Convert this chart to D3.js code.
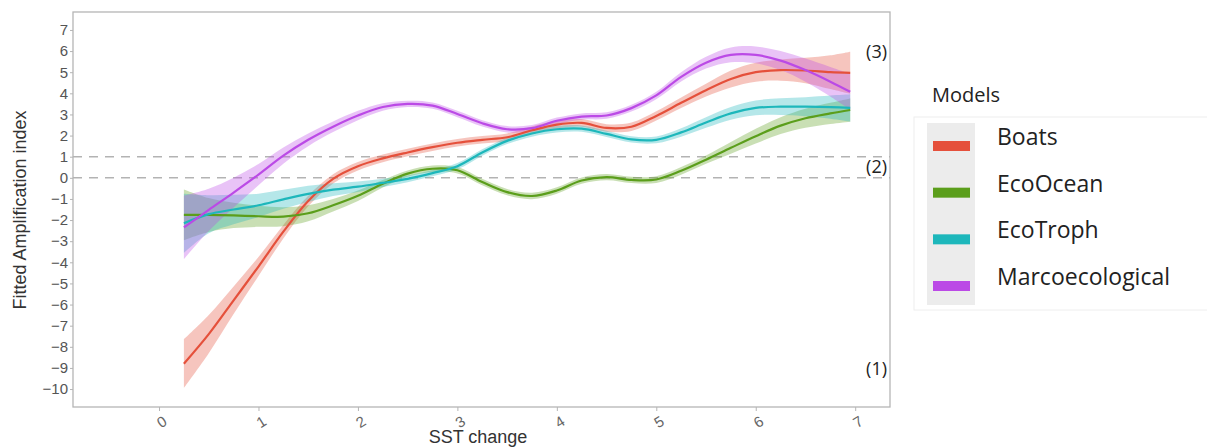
<!DOCTYPE html>
<html>
<head>
<meta charset="utf-8">
<script src="https://cdn.jsdelivr.net/npm/d3@7"></script>
<style>
  body { margin: 0; background: #fff; }
  svg { display: block; }
</style>
</head>
<body>
<svg id="chart" width="1207" height="448"></svg>
<script>
// sample points along the SST change axis
var sst = [0.25, 0.5, 0.75, 1, 1.25, 1.5, 1.75, 2, 2.25, 2.5, 2.75, 3, 3.25, 3.5,
  3.75, 4, 4.25, 4.5, 4.75, 5, 5.25, 5.5, 5.75, 6, 6.25, 6.5, 6.75, 6.95];

var models = ["Boats", "EcoOcean", "EcoTroph", "Marcoecological"];
var colors = ["#e5503b", "#5b9e1b", "#1db7bb", "#bb4ae6"];

// fitted values
var boatsFit = [-8.8, -7.4, -5.8, -4.2, -2.55, -1.1, -0.05, 0.55, 0.92, 1.2, 1.45, 1.66, 1.8, 1.92,
  2.25, 2.52, 2.6, 2.36, 2.42, 2.93, 3.55, 4.15, 4.68, 5.0, 5.1, 5.08, 5.0, 4.97];
var ecoOceanFit = [-1.75, -1.76, -1.78, -1.82, -1.84, -1.68, -1.3, -0.85, -0.28, 0.2, 0.43, 0.36, -0.2, -0.68,
  -0.86, -0.6, -0.13, 0.03, -0.1, -0.08, 0.33, 0.86, 1.42, 1.97, 2.47, 2.82, 3.05, 3.21];
var ecoTrophFit = [-2.15, -1.72, -1.5, -1.3, -1.02, -0.76, -0.56, -0.42, -0.24, -0.05, 0.22, 0.55, 1.2, 1.75,
  2.1, 2.3, 2.33, 2.08, 1.82, 1.8, 2.15, 2.62, 3.05, 3.31, 3.37, 3.37, 3.35, 3.31];
var marcoFit = [-2.35, -1.52, -0.7, 0.15, 1.05, 1.8, 2.42, 2.95, 3.35, 3.5, 3.42, 3.02, 2.58, 2.3,
  2.35, 2.7, 2.9, 2.95, 3.3, 3.9, 4.78, 5.45, 5.82, 5.82, 5.55, 5.1, 4.55, 4.07];

// half width of the confidence ribbons
var boatsSe = [1.15, 0.9, 0.65, 0.45, 0.32, 0.25, 0.22, 0.2, 0.18, 0.18, 0.18, 0.18, 0.18, 0.18,
  0.18, 0.18, 0.18, 0.18, 0.2, 0.22, 0.25, 0.3, 0.4, 0.45, 0.5, 0.6, 0.8, 1.0];
var ecoOceanSe = [1.2, 0.8, 0.6, 0.5, 0.45, 0.38, 0.3, 0.25, 0.18, 0.15, 0.15, 0.15, 0.15, 0.15,
  0.15, 0.15, 0.15, 0.15, 0.15, 0.16, 0.18, 0.2, 0.28, 0.35, 0.4, 0.45, 0.5, 0.55];
var ecoTrophSe = [1.4, 0.9, 0.7, 0.55, 0.45, 0.38, 0.3, 0.25, 0.2, 0.16, 0.15, 0.15, 0.15, 0.15,
  0.15, 0.15, 0.15, 0.15, 0.15, 0.16, 0.2, 0.25, 0.3, 0.35, 0.4, 0.45, 0.55, 0.65];
var marcoSe = [1.5, 1.0, 0.7, 0.5, 0.38, 0.3, 0.25, 0.22, 0.18, 0.15, 0.15, 0.15, 0.15, 0.15,
  0.15, 0.15, 0.15, 0.15, 0.16, 0.18, 0.22, 0.28, 0.35, 0.4, 0.45, 0.55, 0.7, 0.85];

var xTicks = [0, 1, 2, 3, 4, 5, 6, 7];
var yTicks = [7, 6, 5, 4, 3, 2, 1, 0, -1, -2, -3, -4, -5, -6, -7, -8, -9, -10];
var refLines = [0, 1];
var notes = [{ label: "(3)", y: 5.9 }, { label: "(2)", y: 0.45 }, { label: "(1)", y: -9.1 }];

var fits = [boatsFit, ecoOceanFit, ecoTrophFit, marcoFit];
var ses = [boatsSe, ecoOceanSe, ecoTrophSe, marcoSe];

var svg = d3.select("#chart");
var panel = { left: 73, top: 12, right: 890, bottom: 407 };

var x = d3.scaleLinear().domain([-0.865, 7.35]).range([panel.left, panel.right]);
var y = d3.scaleLinear().domain([-10.85, 7.85]).range([panel.bottom, panel.top]);

var series = models.map(function (m, i) {
  return {
    name: m,
    color: colors[i],
    values: sst.map(function (s, j) {
      return { x: s, y: fits[i][j], lo: fits[i][j] - ses[i][j], hi: fits[i][j] + ses[i][j] };
    })
  };
});

// panel
svg.append("rect")
  .attr("x", panel.left).attr("y", panel.top)
  .attr("width", panel.right - panel.left).attr("height", panel.bottom - panel.top)
  .attr("fill", "#fff").attr("stroke", "#b5b5b5").attr("stroke-width", 1.3);

svg.selectAll(".ref").data(refLines).enter().append("line")
  .attr("class", "ref")
  .attr("x1", panel.left).attr("x2", panel.right)
  .attr("y1", function (d) { return y(d); }).attr("y2", function (d) { return y(d); })
  .attr("stroke", "#b3b3b3").attr("stroke-width", 1.4).attr("stroke-dasharray", "9,7");

var area = d3.area()
  .x(function (d) { return x(d.x); })
  .y0(function (d) { return y(d.lo); })
  .y1(function (d) { return y(d.hi); })
  .curve(d3.curveCatmullRom.alpha(0.5));

var line = d3.line()
  .x(function (d) { return x(d.x); })
  .y(function (d) { return y(d.y); })
  .curve(d3.curveCatmullRom.alpha(0.5));

svg.selectAll(".band").data(series).enter().append("path")
  .attr("class", "band")
  .attr("d", function (d) { return area(d.values); })
  .attr("fill", function (d) { return d.color; })
  .attr("fill-opacity", 0.33);

svg.selectAll(".fit").data(series).enter().append("path")
  .attr("class", "fit")
  .attr("d", function (d) { return line(d.values); })
  .attr("fill", "none")
  .attr("stroke", function (d) { return d.color; })
  .attr("stroke-width", 2.2);

// axes
var yAxis = svg.append("g")
  .attr("transform", "translate(" + panel.left + ",0)")
  .call(d3.axisLeft(y).tickValues(yTicks).tickSize(3).tickPadding(2));
yAxis.select(".domain").remove();
yAxis.selectAll("line").attr("stroke", "#b5b5b5");
yAxis.selectAll("text")
  .attr("fill", "#555")
  .style("font", "15px 'Liberation Sans', Arial, sans-serif");

var xAxis = svg.append("g")
  .attr("transform", "translate(0," + panel.bottom + ")")
  .call(d3.axisBottom(x).tickValues(xTicks).tickSize(4).tickFormat(d3.format("d")));
xAxis.select(".domain").remove();
xAxis.selectAll("line").attr("stroke", "#b5b5b5");
xAxis.selectAll("text")
  .attr("fill", "#666")
  .attr("dy", null).attr("y", 0)
  .attr("transform", "translate(3,16) rotate(-32)")
  .attr("dominant-baseline", "middle")
  .style("font", "15px 'Liberation Sans', Arial, sans-serif");

svg.append("text")
  .attr("x", 478).attr("y", 443)
  .attr("text-anchor", "middle")
  .attr("fill", "#333")
  .style("font", "18px 'Liberation Sans', Arial, sans-serif")
  .text("SST change");

svg.append("text")
  .attr("transform", "translate(26,210) rotate(-90)")
  .attr("text-anchor", "middle")
  .attr("fill", "#333")
  .style("font", "18px 'Liberation Sans', Arial, sans-serif")
  .text("Fitted Amplification index");

svg.selectAll(".note").data(notes).enter().append("text")
  .attr("class", "note")
  .attr("x", 887)
  .attr("y", function (d) { return y(d.y); })
  .attr("text-anchor", "end")
  .attr("dominant-baseline", "middle")
  .attr("fill", "#222")
  .style("font", "18px 'Open Sans', sans-serif")
  .text(function (d) { return d.label; });

// legend
var legend = svg.append("g");
legend.append("rect")
  .attr("x", 914).attr("y", 117).attr("width", 300).attr("height", 193)
  .attr("fill", "#fff").attr("stroke", "#eeeeee");
legend.append("text")
  .attr("x", 932).attr("y", 97)
  .attr("dominant-baseline", "middle")
  .attr("fill", "#222")
  .style("font", "20px 'Open Sans', sans-serif")
  .text("Models");
legend.append("rect")
  .attr("x", 927).attr("y", 123).attr("width", 48).attr("height", 182)
  .attr("fill", "#ececec");

var legendY = d3.scalePoint().domain(models).range([146, 286]);
var items = legend.selectAll(".item").data(series).enter().append("g")
  .attr("class", "item")
  .attr("transform", function (d) { return "translate(0," + legendY(d.name) + ")"; });
items.append("rect")
  .attr("x", 933).attr("y", -5).attr("width", 37).attr("height", 10)
  .attr("fill", function (d) { return d.color; });
items.append("text")
  .attr("x", 997).attr("y", -7)
  .attr("dominant-baseline", "middle")
  .attr("fill", "#222")
  .style("font", "23px 'Open Sans', sans-serif")
  .text(function (d) { return d.name; });
</script>
</body>
</html>
